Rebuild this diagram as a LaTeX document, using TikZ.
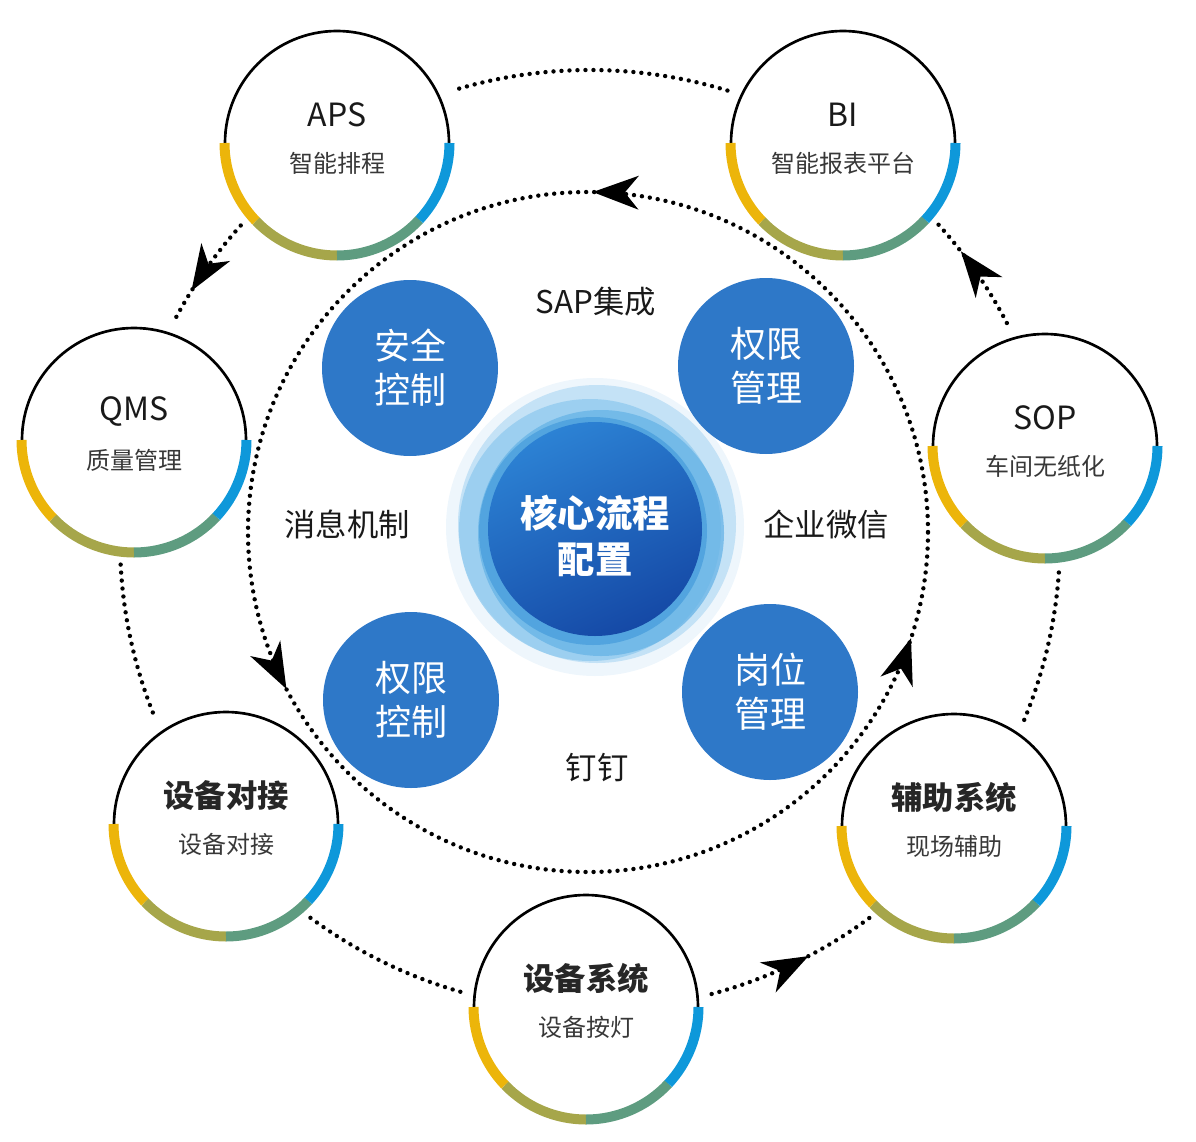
\documentclass[tikz,border=0pt]{standalone}
\usepackage{fontspec}
\setmainfont{Noto Sans CJK SC}
\usetikzlibrary{calc}
\definecolor{cy}{HTML}{ECB50A}
\definecolor{co}{HTML}{A6A64A}
\definecolor{cg}{HTML}{5E9C80}
\definecolor{cb}{HTML}{0E98DA}
\definecolor{cblue}{HTML}{2E78C8}
\definecolor{hal1}{HTML}{EEF6FC}
\definecolor{hal2}{HTML}{C4E2F6}
\definecolor{hal3}{HTML}{92CBEF}
\definecolor{hal4}{HTML}{66B3E6}
\definecolor{hal5}{HTML}{4A9FDD}
\definecolor{dkA}{HTML}{2C82D4}
\definecolor{dkB}{HTML}{1549A6}
\tikzset{
 dotl/.style={line width=3.3pt, dash pattern=on 0pt off 6pt, line cap=round, black},
 ringl/.style={line width=2pt, black},
 seg/.style={line width=7.5pt},
 ttl/.style={font=\fontsize{24}{28}\selectfont, text=black!90},
 ttlb/.style={font=\fontsize{23.5}{28}\selectfont\bfseries, text=black!85},
 subt/.style={font=\fontsize{18}{22}\selectfont, text=black!78},
 bluec/.style={circle, fill=cblue, minimum size=132pt, inner sep=0pt, align=center, text=white, font=\fontsize{27}{33}\selectfont},
 lab/.style={font=\fontsize{23.5}{28}\selectfont, text=black!90},
 arrowhd/.pic={\fill[black] (0,0) -- (-46,17) -- (-32,0) -- (-46,-17) -- cycle;}
}
\newcommand\outerring[6]{%
 \coordinate (#1) at (#2,#3);
 \draw[ringl] ($(#1)+(0:112)$) arc[start angle=0,end angle=180,radius=112];
 \draw[seg,cy] ($(#1)+(180:112.5)$) arc[start angle=180,end angle=224,radius=112.5];
 \draw[seg,co] ($(#1)+(224:112.5)$) arc[start angle=224,end angle=270,radius=112.5];
 \draw[seg,cg] ($(#1)+(270:112.5)$) arc[start angle=270,end angle=317,radius=112.5];
 \draw[seg,cb] ($(#1)+(317:112.5)$) arc[start angle=317,end angle=360,radius=112.5];
 \node[#6] (#1-t) at ($(#1)+(0,28)$) {#4};
 \node[subt] (#1-s) at ($(#1)+(0,-20)$) {#5};
}
\begin{document}
\begin{tikzpicture}[x=0.75pt,y=0.75pt]
\useasboundingbox (0,0) rectangle (1196,-1142);
\coordinate (C) at (590,-540);
\coordinate (I) at (588,-532);

% outer connectors
\draw[dotl] ($(C)+(73:470)$) arc[start angle=73,end angle=107,radius=470];
\draw[dotl] ($(C)+(138:470)$) arc[start angle=138,end angle=152,radius=470];
\draw[dotl] ($(C)+(183:470)$) arc[start angle=183,end angle=202.5,radius=470];
\draw[dotl] ($(C)+(233.5:470)$) arc[start angle=233.5,end angle=254.5,radius=470];
\draw[dotl] ($(C)+(285:470)$) arc[start angle=285,end angle=306.5,radius=470];
\draw[dotl] ($(C)+(337.5:470)$) arc[start angle=337.5,end angle=356.2,radius=470];
\draw[dotl] ($(C)+(27.5:470)$) arc[start angle=27.5,end angle=42.5,radius=470];
\pic[rotate=238] at ($(C)+(148:470)$) {arrowhd};
\pic[rotate=27.7] at ($(C)+(297.7:470)$) {arrowhd};
\pic[rotate=127.9] at ($(C)+(37.9:470)$) {arrowhd};

% inner dotted circle
\draw[dotl] (I) circle[radius=340];
\pic[rotate=179.2] at ($(I)+(89.2:340)$) {arrowhd};
\pic[rotate=297.5] at ($(I)+(207.5:340)$) {arrowhd};
\pic[rotate=71.8] at ($(I)+(341.8:340)$) {arrowhd};

% outer circles
\outerring{aps}{337}{-143}{APS}{智能排程}{ttl}
\outerring{bi}{843}{-143}{BI}{智能报表平台}{ttl}
\outerring{qms}{134}{-440}{QMS}{质量管理}{ttl}
\outerring{sop}{1045}{-446}{SOP}{车间无纸化}{ttl}
\outerring{sbdj}{226}{-824}{设备对接}{设备对接}{ttlb}
\outerring{fzxt}{954}{-826}{辅助系统}{现场辅助}{ttlb}
\outerring{sbxt}{586}{-1007}{设备系统}{设备按灯}{ttlb}

% core halo
\fill[hal1] (595,-527) circle[radius=149];
\fill[hal2] (597,-524) circle[radius=139];
\fill[hal3,opacity=0.8] (590,-530) circle[radius=131];
\fill[hal4,opacity=0.75] (601,-533) circle[radius=123];
\fill[hal5,opacity=0.8] (593,-531) circle[radius=114];
\shade[top color=dkA, bottom color=dkB, shading angle=25] (595,-529) circle[radius=107];
\node[font=\fontsize{28}{34}\selectfont\bfseries, text=white, align=center] (core) at (595,-536) {核心流程\\配置};

% blue circles
\node[bluec] (aqkz) at (410,-368) {安全\\控制};
\node[bluec] (qxgl) at (766,-366) {权限\\管理};
\node[bluec] (qxkz) at (411,-700) {权限\\控制};
\node[bluec] (gwgl) at (770,-692) {岗位\\管理};

% labels
\node[lab] (sap) at (596,-302) {SAP集成};
\node[lab] (xx) at (347,-524) {消息机制};
\node[lab] (qywx) at (826,-524) {企业微信};
\node[lab] (dd) at (597,-768) {钉钉};
\end{tikzpicture}
\end{document}
